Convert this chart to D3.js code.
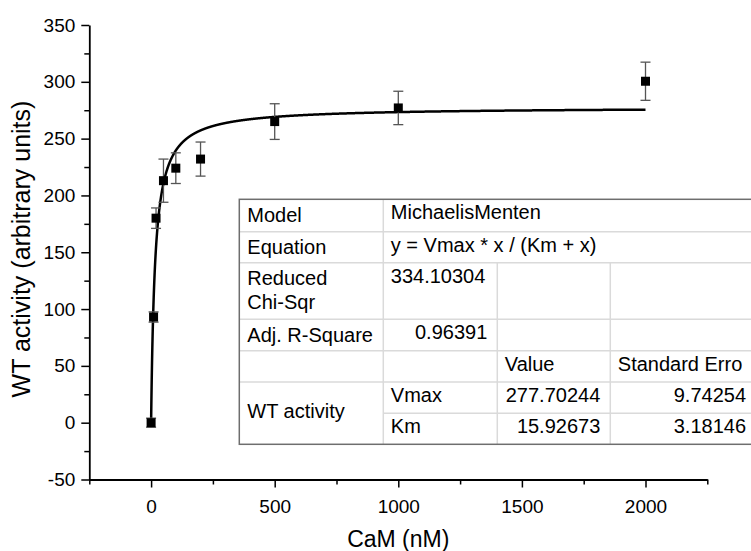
<!DOCTYPE html>
<html lang="en">

<head>
    <meta charset="UTF-8">
    <title>WT activity vs CaM</title>
    <script src="https://d3js.org/d3.v7.min.js"></script>
    <style>
        body { margin: 0; background: #fff; }
        text { font-family: "Liberation Sans", Arial, sans-serif; }
    </style>
</head>

<body>
    <svg id="chart" width="751" height="551"></svg>
    <script>
        // measured points
        const cam = [0, 10, 20, 50, 100, 200, 500, 1000, 2000];
        const activity = [0, 93, 180, 213, 224, 232, 265, 277, 300.5];
        const errors = [4, 4.5, 9, 19, 13.5, 15, 15.7, 14.7, 16.8];

        // fit parameters (from the table)
        const vmax = 277.70244;
        const km = 15.92673;

        const xTicks = [0, 500, 1000, 1500, 2000];
        const yTicks = [-50, 0, 50, 100, 150, 200, 250, 300, 350];

        // table rows: [label, col2, col3, col4]
        const tableRows = [
            ["Model", "MichaelisMenten"],
            ["Equation", "y = Vmax * x / (Km + x)"],
            ["Reduced\nChi-Sqr", "334.10304", "", ""],
            ["Adj. R-Square", "0.96391", "", ""],
            ["", "", "Value", "Standard Erro"],
            ["WT activity", "Vmax", "277.70244", "9.74254"],
            ["", "Km", "15.92673", "3.18146"]
        ];

        const svg = d3.select("#chart");

        const x = d3.scaleLinear().domain([-250, 2250]).range([89.3, 707.3]);
        const y = d3.scaleLinear().domain([-50, 350]).range([479.5, 25]);

        // axes (major with labels, minor without)
        svg.append("g")
            .attr("transform", `translate(0,${y(-50)})`)
            .call(d3.axisBottom(x).tickValues(xTicks).tickSize(8).tickSizeOuter(0).tickPadding(12).tickFormat(d => String(d)));
        svg.append("g")
            .attr("transform", `translate(0,${y(-50)})`)
            .call(d3.axisBottom(x).tickValues(d3.range(-250, 2251, 250).filter(v => !xTicks.includes(v))).tickSize(5).tickSizeOuter(0).tickFormat(""))
            .select(".domain").remove();

        svg.append("g")
            .attr("transform", `translate(${x(-250)},0)`)
            .call(d3.axisLeft(y).tickValues(yTicks).tickSize(8).tickSizeOuter(0).tickPadding(6).tickFormat(d => String(d)));
        svg.append("g")
            .attr("transform", `translate(${x(-250)},0)`)
            .call(d3.axisLeft(y).tickValues(d3.range(-25, 350, 50)).tickSize(5).tickSizeOuter(0).tickFormat(""))
            .select(".domain").remove();

        svg.selectAll(".domain").attr("stroke", "#000").attr("stroke-width", 1.8);
        svg.selectAll(".tick line").attr("stroke", "#000").attr("stroke-width", 1.5);
        svg.selectAll(".tick text").attr("fill", "#000").style("font-size", "19px");

        // axis titles
        svg.append("text")
            .attr("x", x(1000))
            .attr("y", 547)
            .attr("text-anchor", "middle")
            .style("font-size", "23px")
            .text("CaM (nM)");

        svg.append("text")
            .attr("transform", `translate(30,249) rotate(-90)`)
            .attr("text-anchor", "middle")
            .style("font-size", "25px")
            .text("WT activity (arbitrary units)");

        // fit curve, drawn from the fitted equation
        const fitX = d3.range(0, 2000.5, 0.5);
        const line = d3.line()
            .x(d => x(d))
            .y(d => y(vmax * d / (km + d)));
        svg.append("path")
            .datum(fitX)
            .attr("d", line)
            .attr("fill", "none")
            .attr("stroke", "#000")
            .attr("stroke-width", 2.5);

        // error bars
        const pts = cam.map((c, i) => ({ x: c, y: activity[i], e: errors[i] }));
        const eb = svg.append("g").attr("stroke", "#555").attr("stroke-width", 1.3);
        pts.forEach(p => {
            eb.append("line").attr("x1", x(p.x)).attr("x2", x(p.x)).attr("y1", y(p.y - p.e)).attr("y2", y(p.y + p.e));
            eb.append("line").attr("x1", x(p.x) - 5).attr("x2", x(p.x) + 5).attr("y1", y(p.y - p.e)).attr("y2", y(p.y - p.e));
            eb.append("line").attr("x1", x(p.x) - 5).attr("x2", x(p.x) + 5).attr("y1", y(p.y + p.e)).attr("y2", y(p.y + p.e));
        });

        // squares
        svg.append("g").selectAll("rect")
            .data(pts)
            .enter().append("rect")
            .attr("x", d => x(d.x) - 4.5)
            .attr("y", d => y(d.y) - 4.5)
            .attr("width", 9)
            .attr("height", 9)
            .attr("fill", "#000");

        // results table
        const colX = [239.3, 383.3, 497.3, 610.3, 756];
        const rowY = [199.3, 231.7, 262.7, 319.3, 350.7, 382, 413.3, 444.3];
        const tbl = svg.append("g");
        tbl.append("rect")
            .attr("x", colX[0]).attr("y", rowY[0])
            .attr("width", colX[4] - colX[0]).attr("height", rowY[7] - rowY[0])
            .attr("fill", "#fff");

        const inner = tbl.append("g").attr("stroke", "#dadada").attr("stroke-width", 1.5);
        // horizontal inner lines
        rowY.slice(1, 7).forEach((ry, i) => {
            const startX = (i + 1 === 6) ? colX[1] : colX[0];
            inner.append("line").attr("x1", startX).attr("x2", colX[4]).attr("y1", ry).attr("y2", ry);
        });
        // vertical inner lines
        inner.append("line").attr("x1", colX[1]).attr("x2", colX[1]).attr("y1", rowY[0]).attr("y2", rowY[7]);
        [colX[2], colX[3]].forEach(cx => {
            inner.append("line").attr("x1", cx).attr("x2", cx).attr("y1", rowY[2]).attr("y2", rowY[7]);
        });

        tbl.append("rect")
            .attr("x", colX[0]).attr("y", rowY[0])
            .attr("width", colX[4] - colX[0]).attr("height", rowY[7] - rowY[0])
            .attr("fill", "none")
            .attr("stroke", "#6e6e6e")
            .attr("stroke-width", 1.5);

        const tText = tbl.append("g").style("font-size", "20px").attr("fill", "#000");
        // row label column
        tableRows.forEach((r, i) => {
            if (!r[0]) return;
            const lines = r[0].split("\n");
            let by = rowY[i] + 22.5;
            if (r[0] === "WT activity") by = 418.3;
            lines.forEach((ln, k) => {
                tText.append("text").attr("x", colX[0] + 8).attr("y", by + k * 24).text(ln);
            });
        });
        // other columns
        tableRows.forEach((r, i) => {
            for (let c = 1; c < r.length; c++) {
                const v = r[c];
                if (!v) continue;
                const numeric = /^[0-9.]+$/.test(v) && !(i === 2);
                const t = tText.append("text")
                    .attr("y", rowY[i] + 20)
                    .text(v);
                if (numeric) {
                    t.attr("x", colX[c + 1] - 10).attr("text-anchor", "end");
                } else {
                    t.attr("x", colX[c] + 7.5);
                }
            }
        });
    </script>
</body>

</html>
